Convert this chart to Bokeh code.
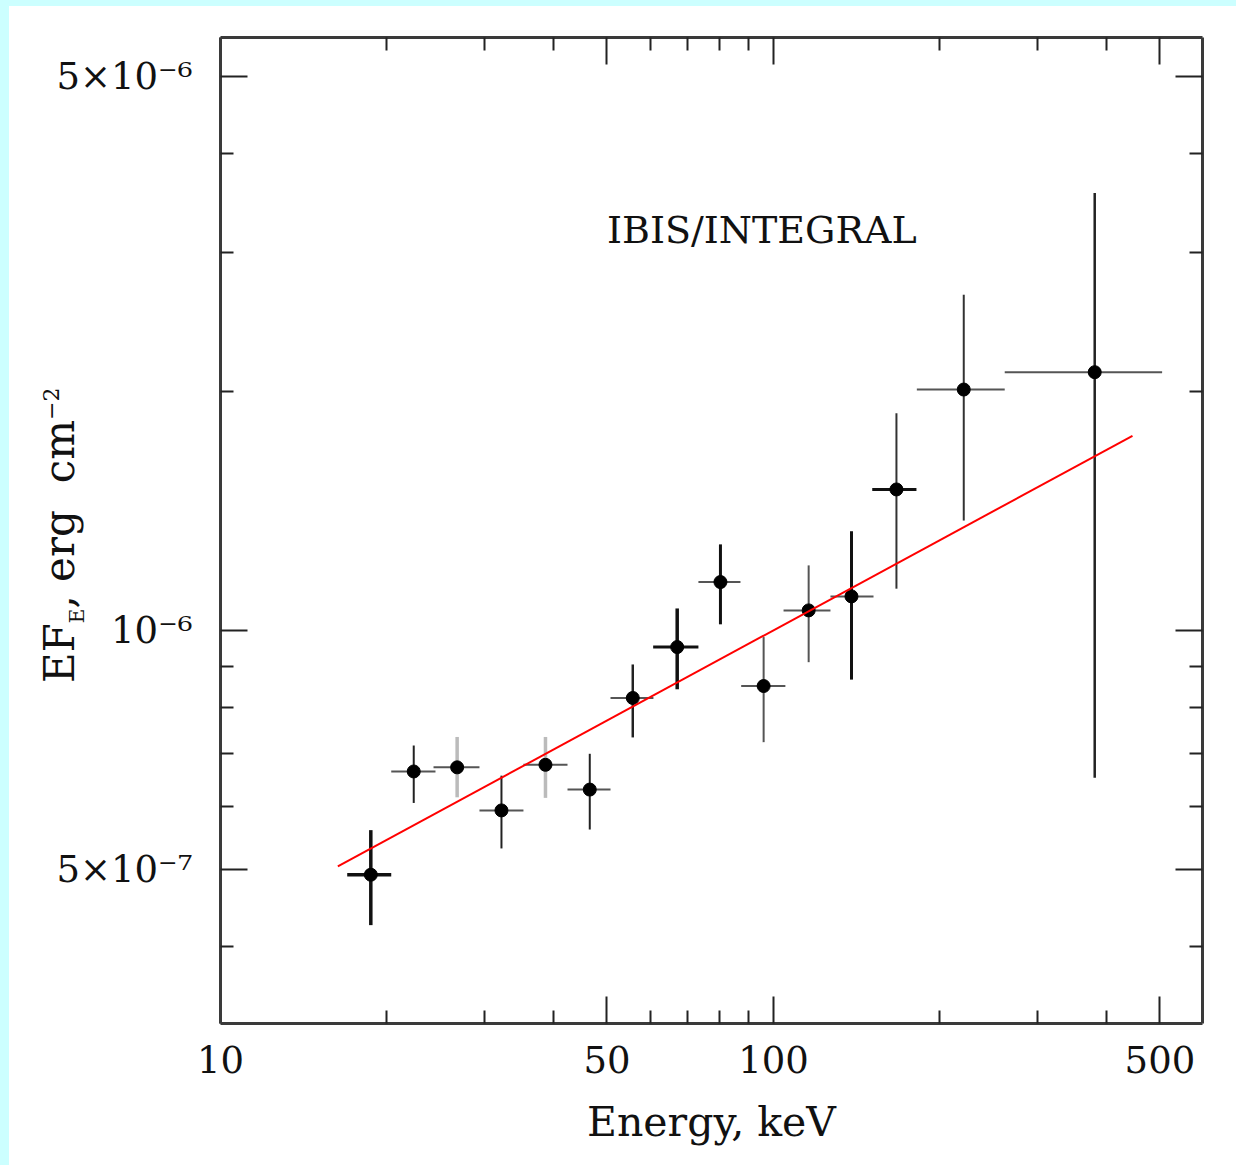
import math
from bokeh.plotting import figure
from bokeh.models import (LogAxis, FixedTicker, CustomJSTickFormatter, Label,
                          ColumnDataSource, Spacer, GridBox, Div)
from bokeh.layouts import row, column
from bokeh.embed import file_html
from bokeh.resources import INLINE

# ---------------- data ----------------
energy = [18.70, 22.36, 26.79, 32.22, 38.70, 46.54, 55.67, 66.98, 80.20,
          96.0, 115.8, 138.4, 166.9, 220.9, 381.1]
energy_lo = [16.95, 20.36, 24.28, 29.40, 35.31, 42.42, 50.74, 60.60, 73.17,
             87.43, 104.3, 126.8, 150.9, 181.7, 262.0]
energy_hi = [20.36, 24.48, 29.40, 35.31, 42.42, 50.74, 60.67, 73.17, 87.17,
             105.1, 126.8, 151.7, 181.4, 262.0, 504.6]
flux = [4.92e-7, 6.64e-7, 6.72e-7, 5.93e-7, 6.77e-7, 6.30e-7, 8.22e-7, 9.53e-7,
        1.151e-6, 8.51e-7, 1.060e-6, 1.104e-6, 1.506e-6, 2.013e-6, 2.117e-6]
flux_lo = [4.25e-7, 6.06e-7, 6.16e-7, 5.31e-7, 6.15e-7, 5.61e-7, 7.33e-7, 8.43e-7,
           1.018e-6, 7.23e-7, 9.12e-7, 8.67e-7, 1.129e-6, 1.376e-6, 6.52e-7]
flux_hi = [5.60e-7, 7.16e-7, 7.34e-7, 6.56e-7, 7.34e-7, 6.99e-7, 9.06e-7, 1.066e-6,
           1.284e-6, 9.81e-7, 1.208e-6, 1.334e-6, 1.879e-6, 2.651e-6, 3.562e-6]

model_energy = [16.3, 446.0]
model_flux = [5.04e-7, 1.76e-6]

x_ticks = [10, 50, 100, 500]
x_tick_labels = ["10", "50", "100", "500"]
x_minor = [20, 30, 40, 60, 70, 80, 90, 200, 300, 400]
y_ticks = [5e-7, 1e-6, 5e-6]
y_tick_labels = ["5×10⁻⁷", "10⁻⁶", "5×10⁻⁶"]
y_minor = [4e-7, 6e-7, 7e-7, 8e-7, 9e-7, 2e-6, 3e-6, 4e-6]

title_text = "IBIS/INTEGRAL"
x_label = "Energy, keV"

# ---------------- styles ----------------
v_color = ["#111111", "#222222", "#bbbbbb", "#222222", "#bbbbbb", "#222222", "#222222",
           "#111111", "#111111", "#555555", "#555555", "#111111", "#333333", "#333333", "#222222"]
v_width = [3.5, 2, 3.5, 2, 3.5, 2, 2.5, 3.5, 3, 2, 2, 3, 2, 2, 2.5]
h_color = ["#111111", "#555555", "#555555", "#555555", "#555555", "#555555", "#555555",
           "#111111", "#555555", "#555555", "#555555", "#555555", "#111111", "#555555", "#555555"]
h_width = [3.5, 2, 2, 2, 2, 2, 2, 3, 2, 2, 2, 2, 3, 2, 2]

FONT = "DejaVu Serif"
X0, X1 = 10, 597
Y0, Y1 = 3.194e-7, 5.595e-6
W, H = 1227, 1159          # canvas size (page offset 9, 6)

src = ColumnDataSource(dict(e=energy, elo=energy_lo, ehi=energy_hi,
                            f=flux, flo=flux_lo, fhi=flux_hi,
                            vc=v_color, vw=v_width, hc=h_color, hw=h_width))

p = figure(width=W, height=H, x_axis_type="log", y_axis_type="log",
           x_range=(X0, X1), y_range=(Y0, Y1),
           output_backend="svg", toolbar_location=None,
           min_border_left=211, min_border_right=34, min_border_top=31,
           min_border_bottom=142)
p.grid.visible = False
p.outline_line_color = None
p.background_fill_color = "white"
p.border_fill_color = "white"

FMT_CODE = """
let best = 0, d = Infinity;
for (let i = 0; i < tv.length; i++) {
  const e = Math.abs(Math.log(tick / tv[i]));
  if (e < d) { d = e; best = i; }
}
return labs[best];
"""
xfmt = CustomJSTickFormatter(args=dict(tv=x_ticks, labs=x_tick_labels), code=FMT_CODE)
yfmt = CustomJSTickFormatter(args=dict(tv=y_ticks, labs=y_tick_labels), code=FMT_CODE)


def style_axis(ax, show_labels):
    ax.major_tick_in = 27
    ax.major_tick_out = 0
    ax.minor_tick_in = 13
    ax.minor_tick_out = 0
    ax.axis_line_width = 3
    ax.axis_line_color = "#3a3a3a"
    ax.major_tick_line_width = 2
    ax.minor_tick_line_width = 2
    ax.major_tick_line_color = "#222222"
    ax.minor_tick_line_color = "#222222"
    if show_labels:
        ax.major_label_text_font = FONT
        ax.major_label_text_font_size = "37px"
        ax.major_label_text_color = "#111111"
    else:
        ax.major_label_text_font_size = "1px"
        ax.major_label_text_color = None
        ax.major_label_standoff = 0


xax = p.xaxis[0]
xax.ticker = FixedTicker(ticks=x_ticks, minor_ticks=x_minor)
xax.formatter = xfmt
style_axis(xax, True)
xax.major_label_standoff = 22
xax.axis_label = x_label
xax.axis_label_text_font = FONT
xax.axis_label_text_font_size = "41px"
xax.axis_label_text_font_style = "normal"
xax.axis_label_text_color = "#111111"
xax.axis_label_standoff = 22

yax = p.yaxis[0]
yax.ticker = FixedTicker(ticks=y_ticks, minor_ticks=y_minor)
yax.formatter = yfmt
style_axis(yax, True)
yax.major_label_standoff = 28

top = LogAxis(ticker=FixedTicker(ticks=x_ticks, minor_ticks=x_minor), formatter=xfmt)
style_axis(top, False)
p.add_layout(top, "above")
right = LogAxis(ticker=FixedTicker(ticks=y_ticks, minor_ticks=y_minor), formatter=yfmt)
style_axis(right, False)
p.add_layout(right, "right")

# error bars
p.segment(x0="elo", y0="f", x1="ehi", y1="f", source=src, line_color="hc", line_width="hw")
p.segment(x0="e", y0="flo", x1="e", y1="fhi", source=src, line_color="vc", line_width="vw")
p.scatter(x="e", y="f", source=src, size=13, color="black")

# model
p.line(model_energy, model_flux, line_color="#ff0000", line_width=2)

# title text inside plot
p.add_layout(Label(x=50, y=3.2e-6, text=title_text, text_font=FONT,
                   text_font_size="38px", text_baseline="middle", text_align="left",
                   text_color="#111111"))

# ---- y-axis label: rotated HTML text overlaid on the left margin ----
# baseline at page x=70, text starts at page y=678 (Div origin is page (9, 6))
ylabel_html = (
    '<div style="transform-origin:0 0; transform:translate(25px,672px) rotate(-90deg);'
    ' white-space:nowrap; width:max-content; font-family:\'DejaVu Serif\';'
    ' font-size:42px; line-height:42px; color:#111111;">'
    'EF<span style="font-size:20px; line-height:0; vertical-align:-10px;">E</span>'
    ', erg&nbsp; cm'
    '<span style="font-size:22px; line-height:0; vertical-align:15px;">−2</span>'
    '</div>'
)
ylab_div = Div(text=ylabel_html, width=W, height=H)

stack = GridBox(children=[(p, 0, 0), (ylab_div, 0, 0)])

left_strip = Spacer(width=9, height=1165, styles={"background-color": "#ccffff"})
top_strip = Spacer(width=W, height=6, styles={"background-color": "#ccffff"})
layout = row(left_strip, column(top_strip, stack, spacing=0), spacing=0)

open("out.html", "w").write(file_html(layout, INLINE))
